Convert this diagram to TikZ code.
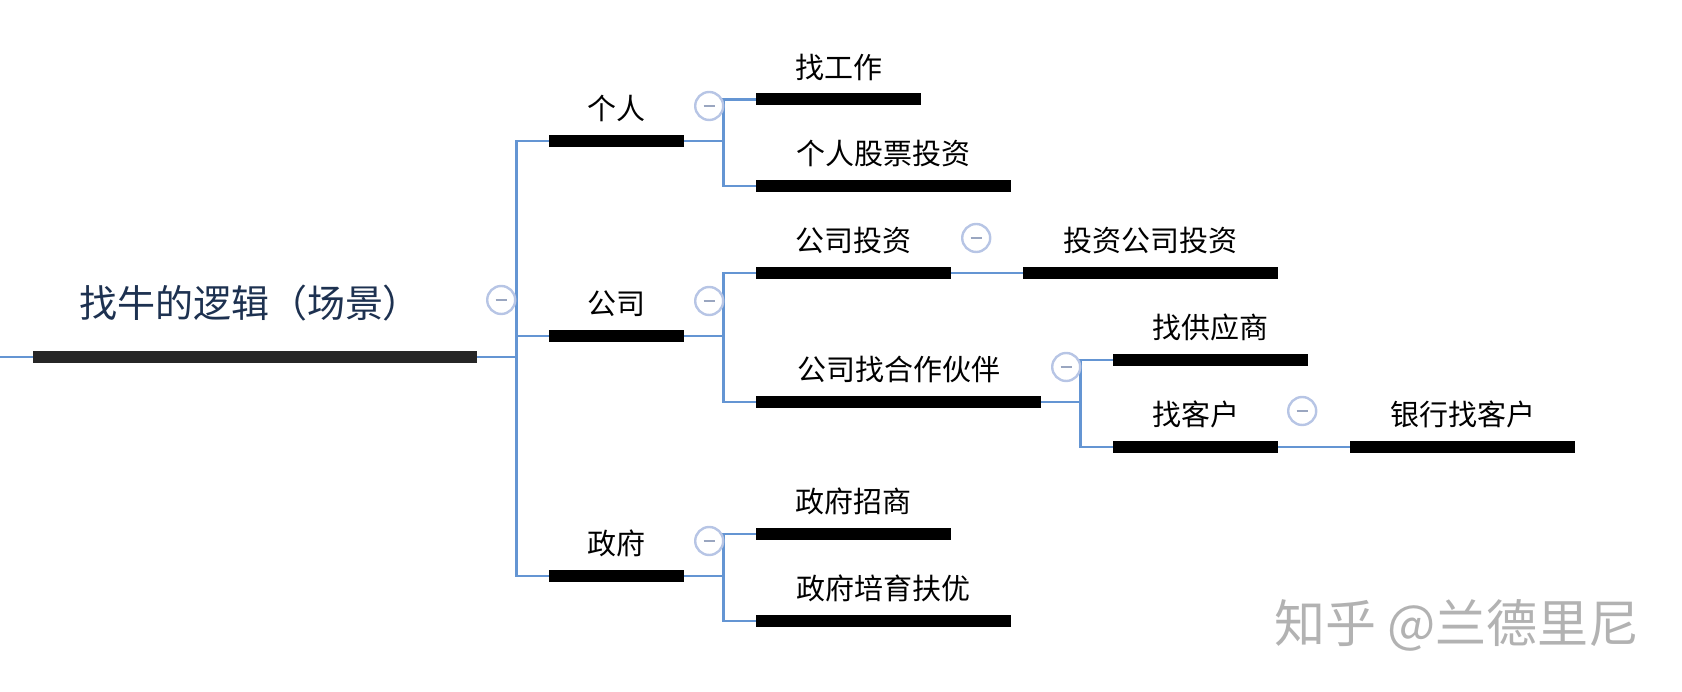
\documentclass[tikz,border=0pt]{standalone}
\usepackage{fontspec}
\setmainfont{Noto Sans CJK SC}
\usetikzlibrary{positioning}

\definecolor{linkblue}{HTML}{6495D3}
\definecolor{foldring}{HTML}{B7C5E5}
\definecolor{foldbar}{HTML}{9AA6C0}
\definecolor{rootink}{HTML}{1D3150}

\tikzset{
  topicbar/.style={fill=black, inner sep=0, minimum height=12, minimum width=#1},
  lbl/.style={font=\fontsize{29}{34}\selectfont, inner sep=0, anchor=base},
  link/.style={draw=linkblue, line width=2.8},
  fold/.style={circle, draw=foldring, line width=2.4, fill=white, minimum size=28, inner sep=0,
    path picture={\draw[foldbar, line width=2.8]
      ([xshift=-5.5]path picture bounding box.center) -- ([xshift=5.5]path picture bounding box.center);}}
}

\begin{document}
\begin{tikzpicture}[x=1pt,y=1pt]
  \useasboundingbox (0,0) rectangle (1682,692);
  % root
  \coordinate (in) at (0,335);
  \node[topicbar=444, fill=black!85] (root) at (255,335) {};
  \node[lbl, font=\fontsize{38}{44}\selectfont, text=rootink] (root-t) at ([xshift=-5,yshift=33]root.north) {找牛的逻辑（场景）};
  % first level
  \node[topicbar=135] (geren) at (616.5,551) {};
  \node[lbl] (geren-t) at ([yshift=15]geren.north) {个人};
  \node[topicbar=135] (gongsi) at (616.5,356) {};
  \node[lbl] (gongsi-t) at ([yshift=15]gongsi.north) {公司};
  \node[topicbar=135] (zhengfu) at (616.5,116) {};
  \node[lbl] (zhengfu-t) at ([yshift=15]zhengfu.north) {政府};
  % second level
  \node[topicbar=165] (gongzuo) at (838.5,592.5) {};
  \node[lbl] (gongzuo-t) at ([yshift=15]gongzuo.north) {找工作};
  \node[topicbar=255] (gupiao) at (883.5,506) {};
  \node[lbl] (gupiao-t) at ([yshift=15]gupiao.north) {个人股票投资};
  \node[topicbar=195] (touzi) at (853.5,419) {};
  \node[lbl] (touzi-t) at ([yshift=15]touzi.north) {公司投资};
  \node[topicbar=285] (hezuo) at (898.5,290) {};
  \node[lbl] (hezuo-t) at ([yshift=15]hezuo.north) {公司找合作伙伴};
  \node[topicbar=195] (zhaoshang) at (853.5,158) {};
  \node[lbl] (zhaoshang-t) at ([yshift=15]zhaoshang.north) {政府招商};
  \node[topicbar=255] (fuyou) at (883.5,71) {};
  \node[lbl] (fuyou-t) at ([yshift=15]fuyou.north) {政府培育扶优};
  % third level
  \node[topicbar=255] (tzgs) at (1150.5,419) {};
  \node[lbl] (tzgs-t) at ([yshift=15]tzgs.north) {投资公司投资};
  \node[topicbar=195] (gongying) at (1210.5,332) {};
  \node[lbl] (gongying-t) at ([yshift=15]gongying.north) {找供应商};
  \node[topicbar=165] (kehu) at (1195.5,245) {};
  \node[lbl] (kehu-t) at ([yshift=15]kehu.north) {找客户};
  \node[topicbar=225] (yinhang) at (1462.5,245) {};
  \node[lbl] (yinhang-t) at ([yshift=15]yinhang.north) {银行找客户};

  % connectors
  \draw[link] (in) -- (root.west);
  \draw[link] (root.east) -- ++(39,0) |- (geren.west);
  \draw[link] (root.east) -- ++(39,0) |- (gongsi.west);
  \draw[link] (root.east) -- ++(39,0) |- (zhengfu.west);
  \draw[link] (geren.east) -- ++(39,0) |- (gongzuo.west);
  \draw[link] (geren.east) -- ++(39,0) |- (gupiao.west);
  \draw[link] (gongsi.east) -- ++(39,0) |- (touzi.west);
  \draw[link] (gongsi.east) -- ++(39,0) |- (hezuo.west);
  \draw[link] (zhengfu.east) -- ++(39,0) |- (zhaoshang.west);
  \draw[link] (zhengfu.east) -- ++(39,0) |- (fuyou.west);
  \draw[link] (touzi.east) -- (tzgs.west);
  \draw[link] (hezuo.east) -- ++(39,0) |- (gongying.west);
  \draw[link] (hezuo.east) -- ++(39,0) |- (kehu.west);
  \draw[link] (kehu.east) -- (yinhang.west);

  % collapse buttons
  \node[fold] (root-f) at ([shift={(24,57)}]root.east) {};
  \node[fold] (geren-f) at ([shift={(25,35)}]geren.east) {};
  \node[fold] (gongsi-f) at ([shift={(25,35)}]gongsi.east) {};
  \node[fold] (zhengfu-f) at ([shift={(25,35)}]zhengfu.east) {};
  \node[fold] (touzi-f) at ([shift={(25,35)}]touzi.east) {};
  \node[fold] (hezuo-f) at ([shift={(25,35)}]hezuo.east) {};
  \node[fold] (kehu-f) at ([shift={(24,36)}]kehu.east) {};

  % watermark
  \node[lbl, anchor=center, font=\fontsize{51}{58}\selectfont, text=black!30] (mark) at (1457,67) {知乎 @兰德里尼};
\end{tikzpicture}
\end{document}
